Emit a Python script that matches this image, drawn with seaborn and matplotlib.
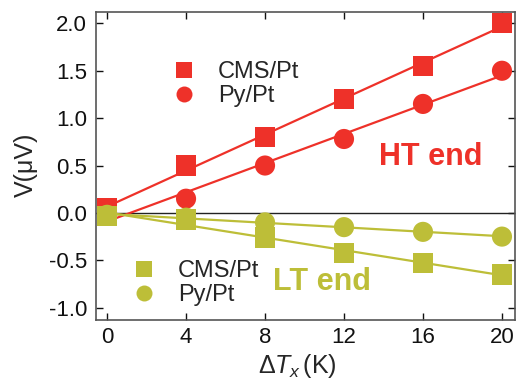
import numpy as np
import pandas as pd
import matplotlib
matplotlib.use("Agg")
import matplotlib.pyplot as plt
import seaborn as sns
from matplotlib.lines import Line2D

# data
dT = [0, 4, 8, 12, 16, 20]
ht_cms = [0.05, 0.50, 0.80, 1.20, 1.55, 2.00]
ht_py = [0.00, 0.15, 0.50, 0.78, 1.15, 1.50]
lt_cms = [-0.03, -0.07, -0.26, -0.42, -0.53, -0.65]
lt_py = [-0.02, -0.05, -0.10, -0.15, -0.20, -0.25]
series_labels = ["CMS/Pt", "Py/Pt"]
x_ticks = [0, 4, 8, 12, 16, 20]
y_ticks = [-1.0, -0.5, 0.0, 0.5, 1.0, 1.5, 2.0]

RED = "#EE3129"
OLIVE = "#BDBE38"

sns.set_theme(style="ticks")
plt.rcParams["font.family"] = ["Liberation Sans", "DejaVu Sans"]
plt.rcParams["mathtext.fontset"] = "custom"
plt.rcParams["mathtext.rm"] = "Liberation Sans"
plt.rcParams["mathtext.it"] = "Liberation Sans:italic"
plt.rcParams["mathtext.bf"] = "Liberation Sans:bold"

fig = plt.figure(figsize=(5.18, 3.86), dpi=100)
ax = fig.add_axes([96/518, 1-320/386, (515-96)/518, (320-12)/386])

ax.axhline(0, color="#222222", lw=1.0, zorder=1)

def draw(yvals, color, marker, z):
    df = pd.DataFrame({"x": dT, "y": yvals})
    sns.scatterplot(data=df, x="x", y="y", marker=marker, s=210, color=color,
                    edgecolor="none", linewidth=0, ax=ax, zorder=z)
    c = np.polyfit(dT, yvals, 1)
    fit = pd.DataFrame({"x": [dT[0], dT[-1]], "y": np.polyval(c, [dT[0], dT[-1]])})
    sns.lineplot(data=fit, x="x", y="y", color=color, lw=1.6, ax=ax, zorder=z + 1)

draw(ht_cms, RED, "s", 2)
draw(ht_py, RED, "o", 2)
draw(lt_cms, OLIVE, "s", 4)
draw(lt_py, OLIVE, "o", 4)

ax.set_xlim(-0.56, 20.66)
ax.set_ylim(-1.13, 2.12)
ax.set_xticks(x_ticks)
ax.set_yticks(y_ticks)
ax.set_yticklabels([f"{v:.1f}" for v in y_ticks])
ax.tick_params(direction="in", length=5, width=1, top=True, right=True,
               labelsize=16, colors="#111111")
ax.tick_params(axis="y", pad=6.5)
ax.tick_params(axis="x", pad=5)
for s in ax.spines.values():
    s.set_color("#555555")
    s.set_linewidth(1.2)

ax.set_xlabel(r"$\Delta T_x\,$(K)", fontsize=18)
ax.set_ylabel("V(\u03bcV)", fontsize=18)
ax.xaxis.set_label_coords((297-96)/419, (320-352)/308)
ax.yaxis.set_label_coords((38-96)/419, (320-165)/308)

def leg(color, left_px, mid_px):
    h = [Line2D([], [], marker="s", ls="none", color=color, markersize=11.5, mew=0),
         Line2D([], [], marker="o", ls="none", color=color, markersize=11.5, mew=0)]
    l = ax.legend(h, series_labels, loc="center left",
                  bbox_to_anchor=((left_px-96)/419, (320-mid_px)/308),
                  frameon=False, fontsize=17, handlelength=1.0, handletextpad=0.95,
                  labelspacing=0.1, borderpad=0, borderaxespad=0)
    return l

l1 = leg(RED, 172, 84)
ax.add_artist(l1)
l2 = leg(OLIVE, 132, 283)

ax.text(16.4, 0.59, "HT end", color=RED, fontsize=22, fontweight="bold",
        ha="center", va="center")
ax.text(10.9, -0.73, "LT end", color=OLIVE, fontsize=22, fontweight="bold",
        ha="center", va="center")

fig.savefig("out.png", dpi=100)
